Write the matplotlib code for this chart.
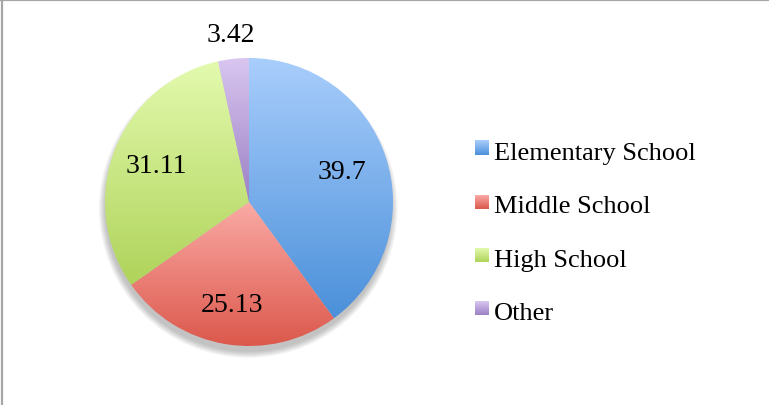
import numpy as np
import matplotlib.pyplot as plt
from matplotlib.colors import LinearSegmentedColormap
from matplotlib.patches import Circle
from matplotlib.lines import Line2D

plt.rcParams['font.family'] = ['Liberation Serif', 'DejaVu Serif']

categories = ['Elementary School', 'Middle School', 'High School', 'Other']
values = [39.7, 25.13, 31.11, 3.42]
value_labels = ['39.7', '25.13', '31.11', '3.42']

# top / bottom colour of each slice's vertical gradient
top_colors = ['#A9CEFC', '#FAAAA5', '#E3FAAE', '#D9C6F0']
bottom_colors = ['#4B90DA', '#DC584C', '#AFD35A', '#9B80C4']

# label radius as a fraction of the pie radius
label_radius = [0.68, 0.72, 0.69, 1.17]

W, H = 769, 406
fig = plt.figure(figsize=(W / 100, H / 100), dpi=100)

# pie axes: centre at (249, 203) px, radius 144 px
cx, cy, R = 249, 203, 144
half = 180
ax = fig.add_axes([(cx - half) / W, (H - cy - half) / H, 2 * half / W, 2 * half / H])
lim = half / R
ax.set_xlim(-lim, lim)
ax.set_ylim(-lim, lim)
ax.set_aspect('equal')
ax.axis('off')

# soft shadow under the pie, mostly below it
for i in range(8):
    ax.add_patch(Circle((-0.005, -0.045), 0.99 + 0.006 * (8 - i), color='#000000',
                        alpha=0.03, lw=0, zorder=0))

wedges, _ = ax.pie(values, startangle=90, counterclock=False, radius=1.0,
                   wedgeprops=dict(linewidth=0))

for w, top, bot, txt, rf in zip(wedges, top_colors, bottom_colors, value_labels, label_radius):
    w.set_facecolor('none')
    # vertical extent of the wedge
    t = np.radians(np.linspace(w.theta1, w.theta2, 200))
    ys = np.concatenate([np.sin(t), [0.0]])
    xs = np.concatenate([np.cos(t), [0.0]])
    cmap = LinearSegmentedColormap.from_list('g', [bot, top])
    grad = np.linspace(0, 1, 256).reshape(-1, 1)
    im = ax.imshow(grad, cmap=cmap, origin='lower', aspect='auto',
                   extent=[xs.min(), xs.max(), ys.min(), ys.max()], zorder=1,
                   interpolation='bilinear')
    im.set_clip_path(w)
    mid = np.radians((w.theta1 + w.theta2) / 2)
    ax.text(rf * np.cos(mid), rf * np.sin(mid), txt, ha='center', va='center',
            fontsize=20, color='#000000', zorder=3)

# overlay in pixel coordinates for legend and frame
ov = fig.add_axes([0, 0, 1, 1])
ov.set_xlim(0, W)
ov.set_ylim(H, 0)
ov.axis('off')
ov.patch.set_alpha(0)

baselines = [160, 213.5, 267, 320.5]
for name, top, bot, yb in zip(categories, top_colors, bottom_colors, baselines):
    cmap = LinearSegmentedColormap.from_list('g', [bot, top])
    grad = np.linspace(0, 1, 64).reshape(-1, 1)
    ov.imshow(grad, cmap=cmap, origin='lower', aspect='auto',
              extent=[475, 489, yb - 4, yb - 18], interpolation='bilinear')
    ov.text(494, yb, name, ha='left', va='baseline', fontsize=19, color='#000000')

ov.set_xlim(0, W)
ov.set_ylim(H, 0)

# chart frame (only top and left edges fall inside the image)
ov.add_line(Line2D([2, 2], [0, H], color='#A6A6A6', lw=1.6))
ov.add_line(Line2D([0, W], [0.8, 0.8], color='#A6A6A6', lw=1.6))

fig.savefig('out.png', dpi=100)
